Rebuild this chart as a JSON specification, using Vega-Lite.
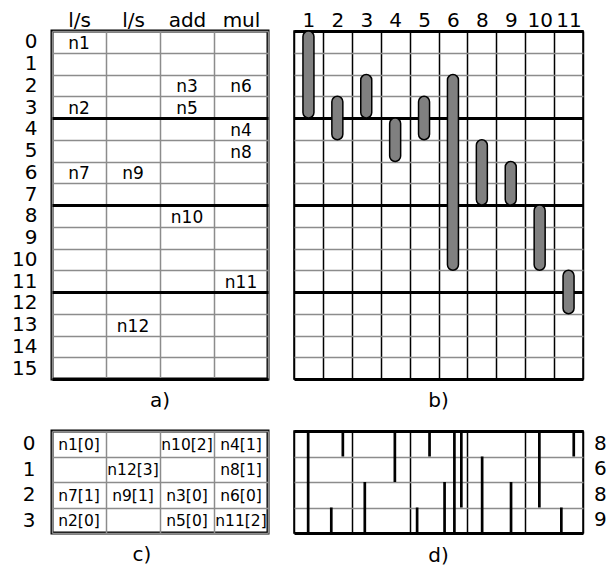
{
  "$schema": "https://vega.github.io/schema/vega-lite/v6.json",
  "background": "white",
  "padding": {"left": 8, "top": 8, "right": 5, "bottom": 5},
  "columns": 2,
  "align": "each",
  "spacing": {"row": 6, "column": 23},
  "concat": [
    {
      "width": 216,
      "height": 348,
      "data": {"values": [
        {"row": 0, "col": 0, "label": "n1"},
        {"row": 2, "col": 2, "label": "n3"},
        {"row": 2, "col": 3, "label": "n6"},
        {"row": 3, "col": 0, "label": "n2"},
        {"row": 3, "col": 2, "label": "n5"},
        {"row": 4, "col": 3, "label": "n4"},
        {"row": 5, "col": 3, "label": "n8"},
        {"row": 6, "col": 0, "label": "n7"},
        {"row": 6, "col": 1, "label": "n9"},
        {"row": 8, "col": 2, "label": "n10"},
        {"row": 11, "col": 3, "label": "n11"},
        {"row": 13, "col": 1, "label": "n12"}
      ]},
      "title": {"text": "a)", "orient": "bottom", "anchor": "middle", "frame": "group", "offset": 12},
      "view": {"stroke": "black", "strokeWidth": 3},
      "mark": {"type": "text", "fontSize": 17, "dy": 2},
      "encoding": {
        "x": {"field": "col", "type": "ordinal",
          "scale": {"domain": [0, 1, 2, 3], "paddingInner": 0, "paddingOuter": 0},
          "axis": {"orient": "top", "title": null, "labelAngle": 0, "ticks": false, "domain": false, "labelPadding": 1,
            "labelExpr": "datum.value === 0 || datum.value === 1 ? 'l/s' : datum.value === 2 ? 'add' : datum.value === 3 ? 'mul' : ''",
            "grid": true, "tickBand": "extent", "gridColor": "#8c8c8c", "gridWidth": 1.5}},
        "y": {"field": "row", "type": "ordinal",
          "scale": {"domain": [0, 1, 2, 3, 4, 5, 6, 7, 8, 9, 10, 11, 12, 13, 14, 15], "paddingInner": 0, "paddingOuter": 0},
          "axis": {"orient": "left", "title": null, "ticks": false, "domain": false, "labelPadding": 15,
            "minExtent": 42, "maxExtent": 42,
            "grid": true, "tickBand": "extent",
            "gridColor": {"condition": {"test": "datum.value % 4 == 3", "value": "black"}, "value": "#8c8c8c"},
            "gridWidth": {"condition": {"test": "datum.value % 4 == 3", "value": 3}, "value": 1.5}}},
        "text": {"field": "label"}
      }
    },
    {
      "width": 289,
      "height": 348,
      "data": {"values": [
        {"node": 1, "start": 0, "end": 4},
        {"node": 2, "start": 3, "end": 5},
        {"node": 3, "start": 2, "end": 4},
        {"node": 4, "start": 4, "end": 6},
        {"node": 5, "start": 3, "end": 5},
        {"node": 6, "start": 2, "end": 11},
        {"node": 8, "start": 5, "end": 8},
        {"node": 9, "start": 6, "end": 8},
        {"node": 10, "start": 8, "end": 11},
        {"node": 11, "start": 11, "end": 13}
      ]},
      "title": {"text": "b)", "orient": "bottom", "anchor": "middle", "frame": "group", "offset": 12},
      "view": {"stroke": "black", "strokeWidth": 1.5},
      "mark": {"type": "bar", "width": 11, "cornerRadius": 5.5, "fill": "#808080", "stroke": "black", "strokeWidth": 1.5},
      "encoding": {
        "x": {"field": "node", "type": "ordinal",
          "scale": {"domain": [1, 2, 3, 4, 5, 6, 8, 9, 10, 11], "paddingInner": 0, "paddingOuter": 0},
          "axis": {"orient": "top", "title": null, "labelAngle": 0, "ticks": false, "domain": false, "labelPadding": 1,
            "grid": true, "tickBand": "extent", "gridColor": "black", "gridWidth": 1.5}},
        "y": {"field": "start", "type": "quantitative",
          "scale": {"domain": [0, 16], "reverse": true, "nice": false, "zero": false},
          "axis": {"title": null, "labels": false, "ticks": false, "domain": false,
            "values": [0, 1, 2, 3, 4, 5, 6, 7, 8, 9, 10, 11, 12, 13, 14, 15, 16],
            "grid": true,
            "gridColor": {"condition": {"test": "datum.value % 4 == 0", "value": "black"}, "value": "#8c8c8c"},
            "gridWidth": {"condition": {"test": "datum.value % 4 == 0", "value": 3}, "value": 1.5}}},
        "y2": {"field": "end"}
      }
    },
    {
      "width": 216,
      "height": 102,
      "data": {"values": [
        {"row": 0, "col": 0, "label": "n1[0]"},
        {"row": 0, "col": 2, "label": "n10[2]"},
        {"row": 0, "col": 3, "label": "n4[1]"},
        {"row": 1, "col": 1, "label": "n12[3]"},
        {"row": 1, "col": 3, "label": "n8[1]"},
        {"row": 2, "col": 0, "label": "n7[1]"},
        {"row": 2, "col": 1, "label": "n9[1]"},
        {"row": 2, "col": 2, "label": "n3[0]"},
        {"row": 2, "col": 3, "label": "n6[0]"},
        {"row": 3, "col": 0, "label": "n2[0]"},
        {"row": 3, "col": 2, "label": "n5[0]"},
        {"row": 3, "col": 3, "label": "n11[2]"}
      ]},
      "title": {"text": "c)", "orient": "bottom", "anchor": "middle", "frame": "group", "offset": 12, "dx": -18},
      "view": {"stroke": "black", "strokeWidth": 3},
      "mark": {"type": "text", "fontSize": 15.5, "dy": 1},
      "encoding": {
        "x": {"field": "col", "type": "ordinal",
          "scale": {"domain": [0, 1, 2, 3], "paddingInner": 0, "paddingOuter": 0},
          "axis": {"title": null, "labels": false, "ticks": false, "domain": false,
            "grid": true, "tickBand": "extent", "gridColor": "#8c8c8c", "gridWidth": 1.5}},
        "y": {"field": "row", "type": "ordinal",
          "scale": {"domain": [0, 1, 2, 3], "paddingInner": 0, "paddingOuter": 0},
          "axis": {"orient": "left", "title": null, "ticks": false, "domain": false, "labelPadding": 17,
            "minExtent": 42, "maxExtent": 42,
            "grid": true, "tickBand": "extent", "gridColor": "#8c8c8c", "gridWidth": 1.5}},
        "text": {"field": "label"}
      }
    },
    {
      "width": 289,
      "height": 102,
      "title": {"text": "d)", "orient": "bottom", "anchor": "middle", "frame": "group", "offset": 12},
      "view": {"stroke": "black", "strokeWidth": 1.5},
      "resolve": {"scale": {"y": "independent"}},
      "layer": [
        {
          "data": {"values": [
            {"pos": 0.49, "start": 0, "end": 4},
            {"pos": 1.29, "start": 3, "end": 4},
            {"pos": 1.69, "start": 0, "end": 1},
            {"pos": 2.45, "start": 2, "end": 4},
            {"pos": 3.49, "start": 0, "end": 2},
            {"pos": 4.26, "start": 3, "end": 4},
            {"pos": 4.69, "start": 0, "end": 1},
            {"pos": 5.21, "start": 2, "end": 4},
            {"pos": 5.55, "start": 0, "end": 4},
            {"pos": 5.79, "start": 0, "end": 3},
            {"pos": 6.51, "start": 1, "end": 4},
            {"pos": 7.51, "start": 2, "end": 4},
            {"pos": 8.49, "start": 0, "end": 3},
            {"pos": 9.25, "start": 3, "end": 4},
            {"pos": 9.68, "start": 0, "end": 1}
          ]},
          "mark": {"type": "rule", "color": "black", "strokeWidth": 2.7},
          "encoding": {
            "x": {"field": "pos", "type": "quantitative",
              "scale": {"domain": [0, 10], "nice": false, "zero": false},
              "axis": {"title": null, "labels": false, "ticks": false, "domain": false,
                "values": [0, 1, 2, 3, 4, 5, 6, 7, 8, 9, 10],
                "grid": true, "gridColor": "black", "gridWidth": 1.5}},
            "y": {"field": "start", "type": "quantitative",
              "scale": {"domain": [0, 4], "reverse": true, "nice": false, "zero": false},
              "axis": {"title": null, "labels": false, "ticks": false, "domain": false,
                "values": [0, 1, 2, 3, 4],
                "grid": true,
                "gridColor": {"condition": {"test": "datum.value % 4 == 0", "value": "black"}, "value": "#8c8c8c"},
                "gridWidth": {"condition": {"test": "datum.value % 4 == 0", "value": 3}, "value": 1.5}}},
            "y2": {"field": "end"}
          }
        },
        {
          "data": {"values": [
            {"row": 0, "count": 8},
            {"row": 1, "count": 6},
            {"row": 2, "count": 8},
            {"row": 3, "count": 9}
          ]},
          "mark": {"type": "text", "fontSize": 20, "align": "left", "dx": 11},
          "encoding": {
            "x": {"datum": 10},
            "y": {"field": "row", "type": "ordinal",
              "scale": {"domain": [0, 1, 2, 3], "paddingInner": 0, "paddingOuter": 0},
              "axis": null},
            "text": {"field": "count"}
          }
        }
      ]
    }
  ],
  "config": {
    "font": "DejaVu Sans",
    "axis": {"labelFont": "DejaVu Sans", "labelColor": "black", "labelFontSize": 20},
    "text": {"font": "DejaVu Sans", "color": "black"},
    "title": {"font": "DejaVu Sans", "fontSize": 20, "fontWeight": "normal", "color": "black"}
  }
}
